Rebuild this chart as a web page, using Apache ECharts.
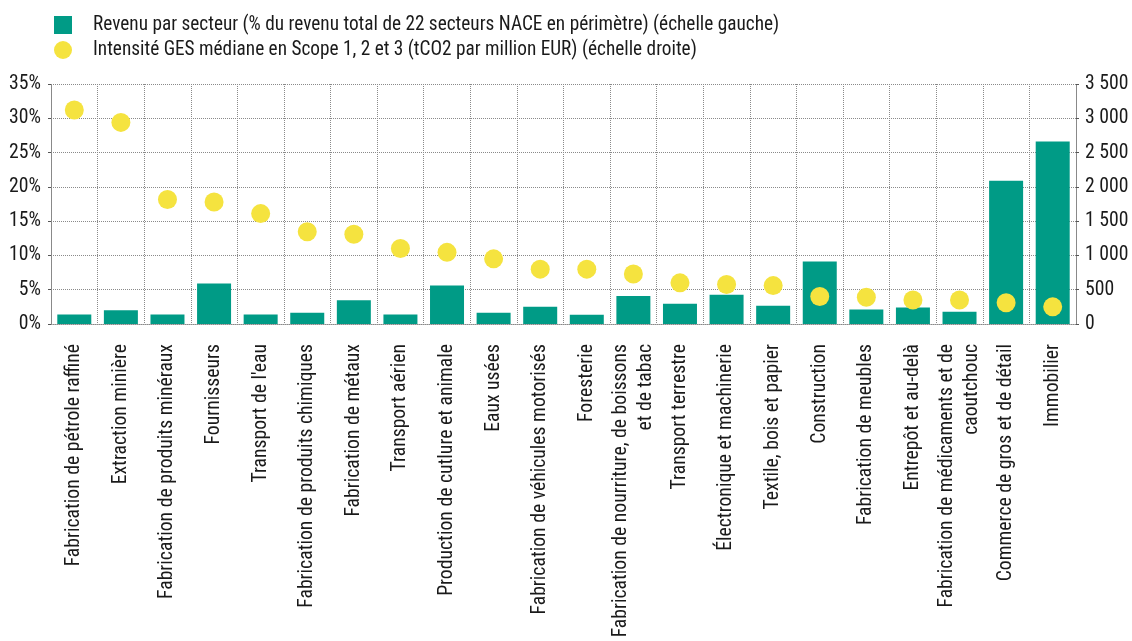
<!DOCTYPE html>
<html><head><meta charset="utf-8">
<script src="https://cdn.jsdelivr.net/npm/echarts@6/dist/echarts.min.js"></script>
<style>html,body{margin:0;padding:0;background:#fff}#c{width:1132px;height:641px}</style>
</head><body><div id="c"></div>
<script>
const categories = [
  "Fabrication de pétrole raffiné","Extraction minière","Fabrication de produits minéraux","Fournisseurs",
  "Transport de l'eau","Fabrication de produits chimiques","Fabrication de métaux","Transport aérien",
  "Production de cutlure et animale","Eaux usées","Fabrication de véhicules motorisés","Foresterie",
  "Fabrication de nourriture, de boissons\net de tabac","Transport terrestre","Électronique et machinerie",
  "Textile, bois et papier","Construction","Fabrication de meubles","Entrepôt et au-delà",
  "Fabrication de médicaments et de\ncaoutchouc","Commerce de gros et de détail","Immobilier"
];
const revenueShare = [1.4,2.0,1.4,5.9,1.4,1.65,3.45,1.4,5.6,1.65,2.5,1.35,4.1,2.95,4.25,2.65,9.1,2.1,2.4,1.8,20.9,26.6];
const ghgIntensity = [3120,2940,1815,1780,1610,1345,1310,1100,1045,950,800,800,730,600,575,560,400,390,350,350,310,250];
const seriesNames = [
  "Revenu par secteur (% du revenu total de 22 secteurs NACE en périmètre) (échelle gauche)",
  "Intensité GES médiane en Scope 1, 2 et 3 (tCO2 par million EUR) (échelle droite)"
];
const FONT = "Roboto Condensed, Liberation Sans Narrow, Roboto, sans-serif";
const TEAL = "#009B86", YELLOW = "#F5E33F", TXT = "#1a1a1a";
const grid = {type:'dotted', color:'#8a8a8a', width:1};
const chart = echarts.init(document.getElementById('c'));
chart.setOption({
  animation:false,
  textStyle:{fontFamily:FONT},
  legend:{
    orient:'vertical', left:49, top:10, itemGap:5, itemWidth:18, itemHeight:18,
    textStyle:{fontFamily:FONT, fontSize:19.3, lineHeight:20, color:TXT, padding:[0,0,0,16]},
    data:[{name:seriesNames[0], icon:'rect'},{name:seriesNames[1], icon:'circle'}]
  },
  grid:{left:51, right:56, top:84, bottom:317, containLabel:false},
  xAxis:{
    type:'category', data:categories, boundaryGap:true,
    axisLine:{show:true, lineStyle:grid}, axisTick:{show:false},
    splitLine:{show:true, lineStyle:grid},
    axisLabel:{rotate:90, interval:0, fontFamily:FONT, fontSize:19.7, color:TXT, margin:20, lineHeight:25, align:'right', padding:[5,0,0,0]}
  },
  yAxis:[
    {type:'value', min:0, max:35, interval:5, position:'left',
     axisLine:{show:true, lineStyle:grid}, axisTick:{show:true, length:3, lineStyle:{color:'#555'}},
     splitLine:{show:true, lineStyle:grid},
     axisLabel:{formatter:v=>v+'%', fontFamily:FONT, fontSize:19.7, color:TXT, margin:10}},
    {type:'value', min:0, max:3500, interval:500, position:'right',
     axisLine:{show:true, lineStyle:grid}, axisTick:{show:true, length:3, lineStyle:{color:'#555'}},
     splitLine:{show:false},
     axisLabel:{formatter:v=>String(v).replace(/\B(?=(\d{3})+(?!\d))/g,' '), fontFamily:FONT, fontSize:19.7, color:TXT, margin:9}}
  ],
  series:[
    {name:seriesNames[0], type:'bar', yAxisIndex:0, data:revenueShare, barWidth:34, itemStyle:{color:TEAL}},
    {name:seriesNames[1], type:'scatter', yAxisIndex:1, data:ghgIntensity, symbolSize:19, itemStyle:{color:YELLOW, opacity:1}}
  ]
});
</script></body></html>
